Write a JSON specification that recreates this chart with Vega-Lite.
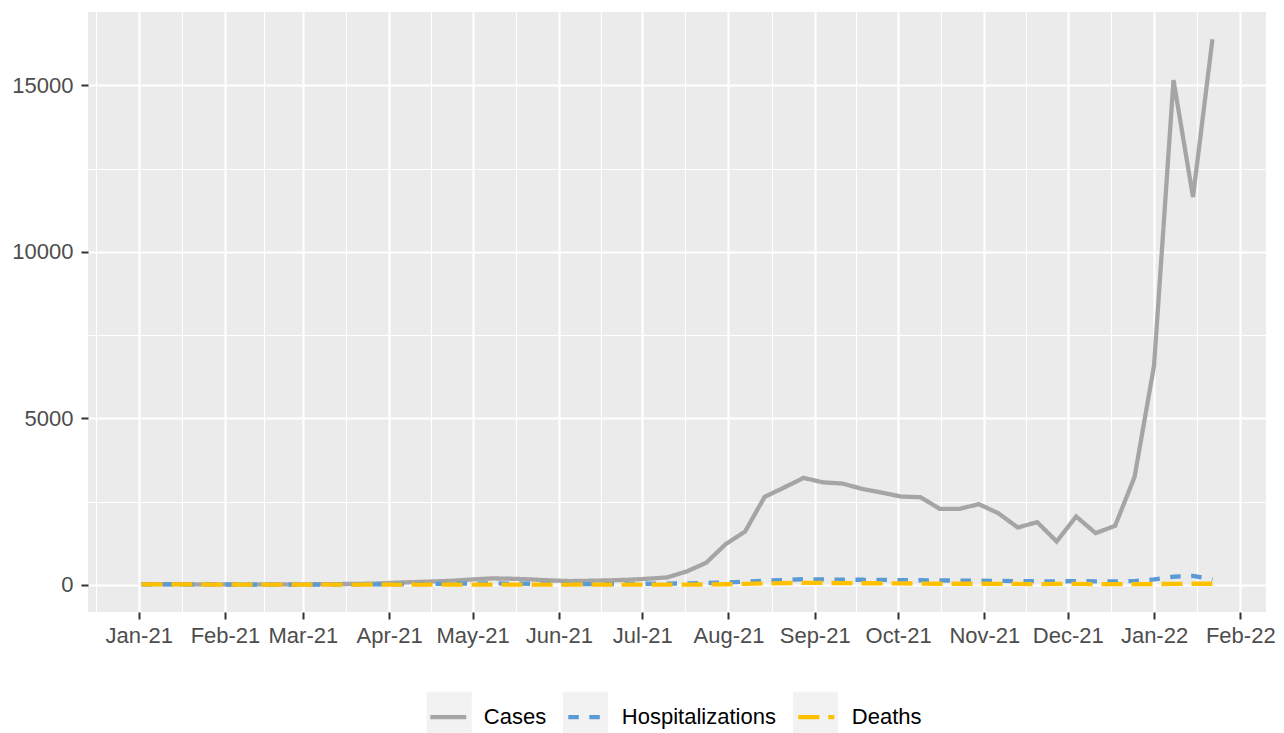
{
 "$schema": "https://vega.github.io/schema/vega-lite/v6.json",
 "width": 1178, "height": 600,
 "autosize": {"type": "none"},
 "padding": {"left": 88, "top": 12, "right": 18, "bottom": 121},
 "background": "white",
 "config": {"view": {"fill": "#EBEBEB", "stroke": null}, "font": "Liberation Sans"},
 "data": {"values": [
  {"date":"2021-01-02","series":"Cases","value":15},{"date":"2021-01-09","series":"Cases","value":20},{"date":"2021-01-16","series":"Cases","value":15},{"date":"2021-01-23","series":"Cases","value":10},{"date":"2021-01-30","series":"Cases","value":10},
  {"date":"2021-02-06","series":"Cases","value":10},{"date":"2021-02-13","series":"Cases","value":10},{"date":"2021-02-20","series":"Cases","value":10},{"date":"2021-02-27","series":"Cases","value":10},
  {"date":"2021-03-06","series":"Cases","value":15},{"date":"2021-03-13","series":"Cases","value":20},{"date":"2021-03-20","series":"Cases","value":25},{"date":"2021-03-27","series":"Cases","value":35},
  {"date":"2021-04-03","series":"Cases","value":60},{"date":"2021-04-10","series":"Cases","value":80},{"date":"2021-04-17","series":"Cases","value":100},{"date":"2021-04-24","series":"Cases","value":120},
  {"date":"2021-05-01","series":"Cases","value":160},{"date":"2021-05-08","series":"Cases","value":190},{"date":"2021-05-15","series":"Cases","value":180},{"date":"2021-05-22","series":"Cases","value":160},{"date":"2021-05-29","series":"Cases","value":130},
  {"date":"2021-06-05","series":"Cases","value":110},{"date":"2021-06-12","series":"Cases","value":120},{"date":"2021-06-19","series":"Cases","value":130},{"date":"2021-06-26","series":"Cases","value":150},
  {"date":"2021-07-03","series":"Cases","value":180},{"date":"2021-07-10","series":"Cases","value":220},{"date":"2021-07-17","series":"Cases","value":400},{"date":"2021-07-24","series":"Cases","value":660},{"date":"2021-07-31","series":"Cases","value":1220},
  {"date":"2021-08-07","series":"Cases","value":1600},{"date":"2021-08-14","series":"Cases","value":2640},{"date":"2021-08-21","series":"Cases","value":2920},{"date":"2021-08-28","series":"Cases","value":3210},
  {"date":"2021-09-04","series":"Cases","value":3075},{"date":"2021-09-11","series":"Cases","value":3040},{"date":"2021-09-18","series":"Cases","value":2880},{"date":"2021-09-25","series":"Cases","value":2770},
  {"date":"2021-10-02","series":"Cases","value":2650},{"date":"2021-10-09","series":"Cases","value":2630},{"date":"2021-10-16","series":"Cases","value":2280},{"date":"2021-10-23","series":"Cases","value":2280},{"date":"2021-10-30","series":"Cases","value":2420},
  {"date":"2021-11-06","series":"Cases","value":2150},{"date":"2021-11-13","series":"Cases","value":1720},{"date":"2021-11-20","series":"Cases","value":1880},{"date":"2021-11-27","series":"Cases","value":1300},
  {"date":"2021-12-04","series":"Cases","value":2050},{"date":"2021-12-11","series":"Cases","value":1550},{"date":"2021-12-18","series":"Cases","value":1770},{"date":"2021-12-25","series":"Cases","value":3240},
  {"date":"2022-01-01","series":"Cases","value":6580},{"date":"2022-01-08","series":"Cases","value":15160},{"date":"2022-01-15","series":"Cases","value":11650},{"date":"2022-01-22","series":"Cases","value":16390},

  {"date":"2021-01-02","series":"Hospitalizations","value":10},{"date":"2021-01-09","series":"Hospitalizations","value":12},{"date":"2021-01-16","series":"Hospitalizations","value":10},{"date":"2021-01-23","series":"Hospitalizations","value":8},{"date":"2021-01-30","series":"Hospitalizations","value":8},
  {"date":"2021-02-06","series":"Hospitalizations","value":6},{"date":"2021-02-13","series":"Hospitalizations","value":5},{"date":"2021-02-20","series":"Hospitalizations","value":5},{"date":"2021-02-27","series":"Hospitalizations","value":5},
  {"date":"2021-03-06","series":"Hospitalizations","value":5},{"date":"2021-03-13","series":"Hospitalizations","value":6},{"date":"2021-03-20","series":"Hospitalizations","value":8},{"date":"2021-03-27","series":"Hospitalizations","value":10},
  {"date":"2021-04-03","series":"Hospitalizations","value":15},{"date":"2021-04-10","series":"Hospitalizations","value":20},{"date":"2021-04-17","series":"Hospitalizations","value":25},{"date":"2021-04-24","series":"Hospitalizations","value":30},
  {"date":"2021-05-01","series":"Hospitalizations","value":35},{"date":"2021-05-08","series":"Hospitalizations","value":40},{"date":"2021-05-15","series":"Hospitalizations","value":35},{"date":"2021-05-22","series":"Hospitalizations","value":30},{"date":"2021-05-29","series":"Hospitalizations","value":25},
  {"date":"2021-06-05","series":"Hospitalizations","value":20},{"date":"2021-06-12","series":"Hospitalizations","value":20},{"date":"2021-06-19","series":"Hospitalizations","value":20},{"date":"2021-06-26","series":"Hospitalizations","value":25},
  {"date":"2021-07-03","series":"Hospitalizations","value":30},{"date":"2021-07-10","series":"Hospitalizations","value":35},{"date":"2021-07-17","series":"Hospitalizations","value":40},{"date":"2021-07-24","series":"Hospitalizations","value":50},{"date":"2021-07-31","series":"Hospitalizations","value":70},
  {"date":"2021-08-07","series":"Hospitalizations","value":90},{"date":"2021-08-14","series":"Hospitalizations","value":120},{"date":"2021-08-21","series":"Hospitalizations","value":140},{"date":"2021-08-28","series":"Hospitalizations","value":165},
  {"date":"2021-09-04","series":"Hospitalizations","value":160},{"date":"2021-09-11","series":"Hospitalizations","value":150},{"date":"2021-09-18","series":"Hospitalizations","value":150},{"date":"2021-09-25","series":"Hospitalizations","value":145},
  {"date":"2021-10-02","series":"Hospitalizations","value":140},{"date":"2021-10-09","series":"Hospitalizations","value":135},{"date":"2021-10-16","series":"Hospitalizations","value":130},{"date":"2021-10-23","series":"Hospitalizations","value":125},{"date":"2021-10-30","series":"Hospitalizations","value":120},
  {"date":"2021-11-06","series":"Hospitalizations","value":115},{"date":"2021-11-13","series":"Hospitalizations","value":110},{"date":"2021-11-20","series":"Hospitalizations","value":105},{"date":"2021-11-27","series":"Hospitalizations","value":100},
  {"date":"2021-12-04","series":"Hospitalizations","value":110},{"date":"2021-12-11","series":"Hospitalizations","value":100},{"date":"2021-12-18","series":"Hospitalizations","value":100},{"date":"2021-12-25","series":"Hospitalizations","value":110},
  {"date":"2022-01-01","series":"Hospitalizations","value":160},{"date":"2022-01-08","series":"Hospitalizations","value":240},{"date":"2022-01-15","series":"Hospitalizations","value":265},{"date":"2022-01-22","series":"Hospitalizations","value":160},

  {"date":"2021-01-02","series":"Deaths","value":8},{"date":"2021-01-09","series":"Deaths","value":10},{"date":"2021-01-16","series":"Deaths","value":10},{"date":"2021-01-23","series":"Deaths","value":8},{"date":"2021-01-30","series":"Deaths","value":6},
  {"date":"2021-02-06","series":"Deaths","value":5},{"date":"2021-02-13","series":"Deaths","value":4},{"date":"2021-02-20","series":"Deaths","value":3},{"date":"2021-02-27","series":"Deaths","value":3},
  {"date":"2021-03-06","series":"Deaths","value":3},{"date":"2021-03-13","series":"Deaths","value":2},{"date":"2021-03-20","series":"Deaths","value":2},{"date":"2021-03-27","series":"Deaths","value":2},
  {"date":"2021-04-03","series":"Deaths","value":3},{"date":"2021-04-10","series":"Deaths","value":3},{"date":"2021-04-17","series":"Deaths","value":4},{"date":"2021-04-24","series":"Deaths","value":5},
  {"date":"2021-05-01","series":"Deaths","value":5},{"date":"2021-05-08","series":"Deaths","value":5},{"date":"2021-05-15","series":"Deaths","value":5},{"date":"2021-05-22","series":"Deaths","value":4},{"date":"2021-05-29","series":"Deaths","value":3},
  {"date":"2021-06-05","series":"Deaths","value":3},{"date":"2021-06-12","series":"Deaths","value":2},{"date":"2021-06-19","series":"Deaths","value":2},{"date":"2021-06-26","series":"Deaths","value":2},
  {"date":"2021-07-03","series":"Deaths","value":3},{"date":"2021-07-10","series":"Deaths","value":4},{"date":"2021-07-17","series":"Deaths","value":5},{"date":"2021-07-24","series":"Deaths","value":8},{"date":"2021-07-31","series":"Deaths","value":15},
  {"date":"2021-08-07","series":"Deaths","value":25},{"date":"2021-08-14","series":"Deaths","value":40},{"date":"2021-08-21","series":"Deaths","value":50},{"date":"2021-08-28","series":"Deaths","value":55},
  {"date":"2021-09-04","series":"Deaths","value":55},{"date":"2021-09-11","series":"Deaths","value":50},{"date":"2021-09-18","series":"Deaths","value":45},{"date":"2021-09-25","series":"Deaths","value":40},
  {"date":"2021-10-02","series":"Deaths","value":40},{"date":"2021-10-09","series":"Deaths","value":35},{"date":"2021-10-16","series":"Deaths","value":30},{"date":"2021-10-23","series":"Deaths","value":30},{"date":"2021-10-30","series":"Deaths","value":30},
  {"date":"2021-11-06","series":"Deaths","value":25},{"date":"2021-11-13","series":"Deaths","value":25},{"date":"2021-11-20","series":"Deaths","value":20},{"date":"2021-11-27","series":"Deaths","value":25},
  {"date":"2021-12-04","series":"Deaths","value":25},{"date":"2021-12-11","series":"Deaths","value":20},{"date":"2021-12-18","series":"Deaths","value":20},{"date":"2021-12-25","series":"Deaths","value":20},
  {"date":"2022-01-01","series":"Deaths","value":20},{"date":"2022-01-08","series":"Deaths","value":25},{"date":"2022-01-15","series":"Deaths","value":30},{"date":"2022-01-22","series":"Deaths","value":30}
 ]},
 "layer": [
  {
   "mark": {"type": "line", "strokeWidth": 4.3, "strokeCap": "butt"},
   "encoding": {
    "x": {"field": "date", "type": "temporal",
     "scale": {"type": "utc", "domain": [{"year": 2020, "month": 12, "date": 13, "hours": 18, "utc": true}, {"year": 2022, "month": 2, "date": 10, "hours": 6, "utc": true}]},
     "axis": {"title": null, "values": [
       {"year": 2021, "month": 1, "date": 1, "utc": true}, {"year": 2021, "month": 2, "date": 1, "utc": true}, {"year": 2021, "month": 3, "date": 1, "utc": true},
       {"year": 2021, "month": 4, "date": 1, "utc": true}, {"year": 2021, "month": 5, "date": 1, "utc": true}, {"year": 2021, "month": 6, "date": 1, "utc": true},
       {"year": 2021, "month": 7, "date": 1, "utc": true}, {"year": 2021, "month": 8, "date": 1, "utc": true}, {"year": 2021, "month": 9, "date": 1, "utc": true},
       {"year": 2021, "month": 10, "date": 1, "utc": true}, {"year": 2021, "month": 11, "date": 1, "utc": true}, {"year": 2021, "month": 12, "date": 1, "utc": true},
       {"year": 2022, "month": 1, "date": 1, "utc": true}, {"year": 2022, "month": 2, "date": 1, "utc": true}],
      "format": "%b-%y", "grid": true, "gridColor": "white", "gridWidth": 2.2, "domain": false,
      "tickColor": "#333333", "tickWidth": 2, "tickSize": 7, "labelFontSize": 22, "labelColor": "#4D4D4D",
      "labelPadding": 6, "labelOverlap": false, "labelFlush": false, "labelFont": "Liberation Sans"}},
    "y": {"field": "value", "type": "quantitative",
     "scale": {"domain": [-819, 17206], "nice": false, "zero": false},
     "axis": {"title": null, "values": [0, 5000, 10000, 15000], "format": "d", "grid": true, "gridColor": "white", "gridWidth": 2.2,
      "domain": false, "tickColor": "#333333", "tickWidth": 2, "tickSize": 7, "labelFontSize": 22, "labelColor": "#4D4D4D",
      "labelPadding": 8, "labelFont": "Liberation Sans"}},
    "color": {"field": "series", "type": "nominal",
     "scale": {"domain": ["Cases", "Hospitalizations", "Deaths"], "range": ["#A5A5A5", "#5B9BD5", "#FFC000"]},
     "legend": {"orient": "none", "legendX": 339.8, "legendY": 684.3, "direction": "horizontal", "title": null,
      "symbolType": "stroke", "symbolSize": 1296, "symbolStrokeWidth": 4.3, "labelFontSize": 22, "labelFont": "Liberation Sans",
      "labelColor": "black", "labelOffset": 15, "columnPadding": 12, "padding": 0, "zindex": 2, "symbolOpacity": 1, "labelLimit": 0}},
    "strokeDash": {"field": "series", "type": "nominal",
     "scale": {"domain": ["Cases", "Hospitalizations", "Deaths"], "range": [[1, 0], [10.5, 10.5], [21, 9]]},
     "legend": {"orient": "none", "legendX": 339.8, "legendY": 684.3, "direction": "horizontal", "title": null,
      "symbolType": "stroke", "symbolSize": 1296, "symbolStrokeWidth": 4.3, "labelFontSize": 22, "labelFont": "Liberation Sans",
      "labelColor": "black", "labelOffset": 15, "columnPadding": 12, "padding": 0, "zindex": 2, "symbolOpacity": 1, "labelLimit": 0}}
   }
  },
  {
   "mark": {"type": "point", "filled": true, "color": "#F2F2F2", "size": 0},
   "encoding": {
    "x": {"field": "date", "type": "temporal",
     "axis": {"orient": "top", "title": null, "labels": false, "ticks": false, "domain": false, "grid": true, "gridColor": "white", "gridWidth": 1.1,
      "values": [
       {"year": 2020, "month": 12, "date": 16, "hours": 12, "utc": true}, {"year": 2021, "month": 1, "date": 16, "hours": 12, "utc": true},
       {"year": 2021, "month": 2, "date": 15, "utc": true}, {"year": 2021, "month": 3, "date": 16, "hours": 12, "utc": true},
       {"year": 2021, "month": 4, "date": 16, "utc": true}, {"year": 2021, "month": 5, "date": 16, "hours": 12, "utc": true},
       {"year": 2021, "month": 6, "date": 16, "utc": true}, {"year": 2021, "month": 7, "date": 16, "hours": 12, "utc": true},
       {"year": 2021, "month": 8, "date": 16, "hours": 12, "utc": true}, {"year": 2021, "month": 9, "date": 16, "utc": true},
       {"year": 2021, "month": 10, "date": 16, "hours": 12, "utc": true}, {"year": 2021, "month": 11, "date": 16, "utc": true},
       {"year": 2021, "month": 12, "date": 16, "hours": 12, "utc": true}, {"year": 2022, "month": 1, "date": 16, "hours": 12, "utc": true}]}},
    "y": {"field": "value", "type": "quantitative",
     "axis": {"orient": "right", "title": null, "labels": false, "ticks": false, "domain": false, "grid": true, "gridColor": "white", "gridWidth": 1.1,
      "values": [2500, 7500, 12500]}},
    "shape": {"field": "series", "type": "nominal", "sort": null,
     "scale": {"range": ["square", "square", "square"]},
     "legend": {"orient": "none", "legendX": 338.7, "legendY": 679.8, "title": null, "values": ["Cases"], "labelExpr": "''",
      "symbolType": "square", "symbolSize": 2025, "symbolFillColor": "#F2F2F2", "symbolStrokeWidth": 0, "symbolOpacity": 1,
      "labelFontSize": 22, "padding": 0, "zindex": 1}},
    "strokeWidth": {"field": "series", "type": "nominal", "sort": "ascending",
     "scale": {"range": [0, 0, 0]},
     "legend": {"orient": "none", "legendX": 475, "legendY": 679.8, "title": null, "values": ["Hospitalizations"], "labelExpr": "''",
      "symbolType": "square", "symbolSize": 2025, "symbolFillColor": "#F2F2F2", "symbolStrokeColor": "#F2F2F2", "symbolOpacity": 1,
      "labelFontSize": 22, "padding": 0, "zindex": 1}},
    "opacity": {"field": "series", "type": "nominal", "sort": "descending",
     "scale": {"range": [1, 1, 1]},
     "legend": {"orient": "none", "legendX": 705, "legendY": 679.8, "title": null, "values": ["Deaths"], "labelExpr": "''",
      "symbolType": "square", "symbolSize": 2025, "symbolFillColor": "#F2F2F2", "symbolStrokeWidth": 0,
      "labelFontSize": 22, "padding": 0, "zindex": 1}}
   }
  }
 ],
 "resolve": {"axis": {"x": "independent", "y": "independent"}}
}
